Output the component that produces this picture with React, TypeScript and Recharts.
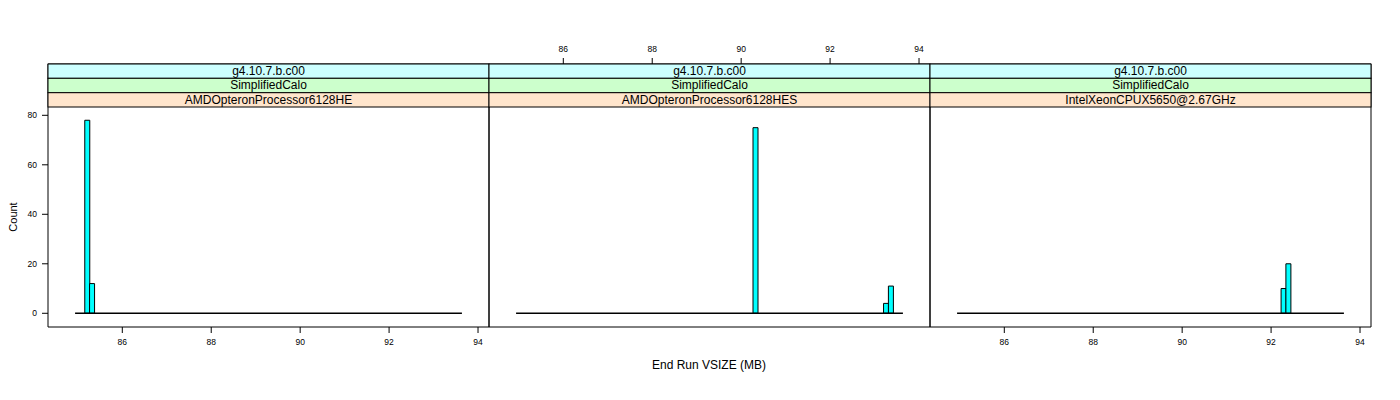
import { ComposedChart, Bar, XAxis, YAxis, ReferenceLine } from 'recharts';

// strip labels, top to bottom, one per panel
const stripTop = ['g4.10.7.b.c00', 'g4.10.7.b.c00', 'g4.10.7.b.c00'];
const stripMid = ['SimplifiedCalo', 'SimplifiedCalo', 'SimplifiedCalo'];
const stripLow = ['AMDOpteronProcessor6128HE', 'AMDOpteronProcessor6128HES', 'IntelXeonCPUX5650@2.67GHz'];

// histogram bins (bin midpoints in MB) and counts, non-empty bins only
const mids1 = [85.21, 85.318];
const counts1 = [78, 12];
const mids2 = [90.321, 93.257, 93.366];
const counts2 = [75, 4, 11];
const mids3 = [92.279, 92.387];
const counts3 = [10, 20];

// full range covered by the breaks (empty bins draw as a flat line)
const histRange = [84.938, 93.638];

const xTicks = [86, 88, 90, 92, 94];
const yTicks = [0, 20, 40, 60, 80];
const xDomain = [84.329, 94.247];
// upper part of the y range sits behind the strips
const yDomain = [-5.54, 100.73];

const PANEL_W = 441;
const panelLeft = [48, 489, 930];
const PLOT_TOP = 64;
const STRIP_ROWS = [64, 78.3, 92.7, 107];
const stripColors = ['#ccffff', '#ccffcc', '#ffe5cc'];

const FONT = '"Liberation Sans", Arial, Helvetica, sans-serif';
const tickFont = { fontSize: 8.5, fill: '#000', fontFamily: FONT };
const line = { stroke: '#000' };

const panels = [
  { mids: mids1, counts: counts1, topLabels: false, bottomLabels: true, left: true, right: false },
  { mids: mids2, counts: counts2, topLabels: true, bottomLabels: false, left: false, right: false },
  { mids: mids3, counts: counts3, topLabels: false, bottomLabels: true, left: false, right: true },
];

const Panel = ({ idx }: { idx: number }) => {
  const p = panels[idx];
  const data = p.mids.map((x, i) => ({ x, count: p.counts[i] }));
  return (
    <div style={{ position: 'absolute', left: panelLeft[idx] - 45, top: 0 }}>
      <ComposedChart
        width={PANEL_W + 90}
        height={400}
        data={data}
        margin={{ top: PLOT_TOP - 30, bottom: 43, left: 0, right: 0 }}
        barCategoryGap={0}
        barGap={0}
      >
        <XAxis
          xAxisId="b"
          dataKey="x"
          type="number"
          domain={xDomain}
          ticks={xTicks}
          allowDataOverflow
          height={30}
          tickSize={6}
          tickMargin={6}
          axisLine={line}
          tickLine={line}
          tick={p.bottomLabels ? tickFont : false}
        />
        <XAxis
          xAxisId="t"
          dataKey="x"
          type="number"
          orientation="top"
          domain={xDomain}
          ticks={xTicks}
          allowDataOverflow
          height={30}
          tickSize={6}
          tickMargin={6}
          axisLine={line}
          tickLine={line}
          tick={p.topLabels ? tickFont : false}
        />
        <YAxis
          yAxisId="l"
          type="number"
          domain={yDomain}
          ticks={yTicks}
          allowDataOverflow
          width={45}
          tickSize={6}
          tickMargin={5}
          axisLine={line}
          tickLine={p.left ? line : false}
          tick={p.left ? tickFont : false}
        />
        <YAxis
          yAxisId="r"
          orientation="right"
          type="number"
          domain={yDomain}
          ticks={yTicks}
          allowDataOverflow
          width={45}
          tickSize={6}
          axisLine={line}
          tickLine={p.right ? line : false}
          tick={false}
        />
        <ReferenceLine
          xAxisId="b"
          yAxisId="l"
          segment={[{ x: histRange[0], y: 0 }, { x: histRange[1], y: 0 }]}
          stroke="#000"
          strokeWidth={1.5}
          ifOverflow="visible"
        />
        <Bar
          xAxisId="b"
          yAxisId="l"
          dataKey="count"
          fill="#00ffff"
          stroke="#000"
          strokeWidth={1}
          isAnimationActive={false}
        />
      </ComposedChart>
    </div>
  );
};

const App = () => {
  const labels = [stripTop, stripMid, stripLow];
  return (
    <div style={{ position: 'absolute', left: 0, top: 0, width: 1400, height: 400, background: '#fff', fontFamily: FONT }}>
      {panels.map((_, i) => (
        <Panel key={i} idx={i} />
      ))}
      <svg width={1400} height={400} style={{ position: 'absolute', left: 0, top: 0, pointerEvents: 'none' }}>
        {panelLeft.map((px, i) =>
          labels.map((row, r) => (
            <g key={`${i}-${r}`}>
              <rect
                x={px}
                y={STRIP_ROWS[r]}
                width={PANEL_W}
                height={STRIP_ROWS[r + 1] - STRIP_ROWS[r]}
                fill={stripColors[r]}
                stroke="#000"
                strokeWidth={1}
              />
              <text
                x={px + PANEL_W / 2}
                y={STRIP_ROWS[r + 1] - 3.5}
                textAnchor="middle"
                fontSize={12}
                fontFamily={FONT}
                fill="#000"
              >
                {row[i]}
              </text>
            </g>
          ))
        )}
        <text
          transform="translate(16.5,217) rotate(-90)"
          textAnchor="middle"
          fontSize={11}
          fontFamily={FONT}
          fill="#000"
        >
          Count
        </text>
        <text x={709} y={369} textAnchor="middle" fontSize={12} fontFamily={FONT} fill="#000">
          End Run VSIZE (MB)
        </text>
      </svg>
    </div>
  );
};

export default App;
